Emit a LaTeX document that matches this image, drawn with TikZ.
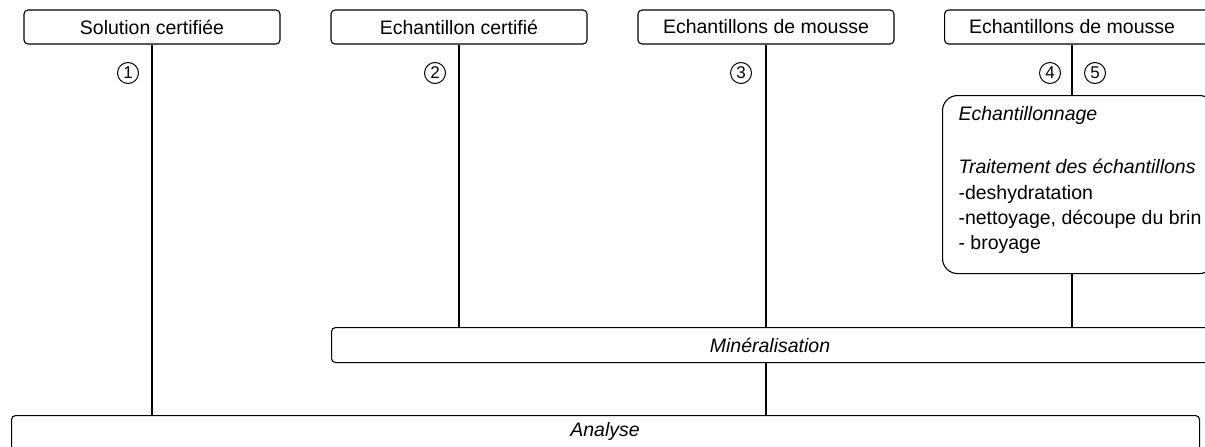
\documentclass[tikz,border=0pt]{standalone}
\usepackage{fontspec}
\setmainfont{Liberation Sans}
\begin{document}
\begin{tikzpicture}[x=1pt,y=-1pt, line width=1.1pt,
  font=\fontsize{19.5}{24}\selectfont,
  topbox/.style={draw, rounded corners=4pt, minimum height=34pt, minimum width=256pt, inner sep=0pt},
  lbl/.style={inner sep=0pt},
  line/.style={inner sep=0pt, anchor=base west},
  num/.style={circle, draw, line width=1pt, minimum size=21pt, inner sep=0pt, font=\fontsize{17}{17}\selectfont},
  bigbox/.style={draw, inner sep=0pt, anchor=north west}]
\useasboundingbox (0,0) rectangle (1205,447);
% top boxes
\node[topbox] (b1) at (152,27) {Solution certifiée};
\node[topbox] (b2) at (459,27) {Echantillon certifié};
\node[topbox] (b3) at (766,27) {Echantillons de mousse};
\node[topbox, minimum width=266pt, anchor=west] (b4) at (944,27) {};
\node[lbl] (t4) at (1072,27) {Echantillons de mousse};
% sampling box
\node[bigbox, rounded corners=15pt, minimum width=272pt, minimum height=178pt] (ech) at (942,95) {};
\node[line] (e1) at (958,120) {\textit{Echantillonnage}};
\node[line] (e2) at (958,173) {\textit{Traitement des échantillons}};
\node[line] (e3) at (958,199) {-deshydratation};
\node[line] (e4) at (958,224) {-nettoyage, découpe du brin};
\node[line] (e5) at (958,249) {- broyage};
% mineralisation
\node[bigbox, rounded corners=4pt, minimum width=877pt, minimum height=35pt] (min) at (331,327) {\textit{Minéralisation}};
% analyse
\node[bigbox, rounded corners=4pt, minimum width=1188pt, minimum height=45pt] (ana) at (11,415) {};
\node[lbl] (tana) at (605,431) {\textit{Analyse}};
% circled numbers
\node[num] (n1) at (128,73) {1};
\node[num] (n2) at (435,73) {2};
\node[num] (n3) at (741,73) {3};
\node[num] (n4) at (1050,73) {4};
\node[num] (n5) at (1095,73) {5};
% connectors
\draw (b1.south) -- (b1.south |- ana.north);
\draw (b2.south) -- (b2.south |- min.north);
\draw (b3.south) -- (b3.south |- min.north);
\draw (t4 |- b4.south) -- (t4 |- ech.north);
\draw (t4 |- ech.south) -- (t4 |- min.north);
\draw (b3 |- min.south) -- (b3 |- ana.north);
\end{tikzpicture}
\end{document}
